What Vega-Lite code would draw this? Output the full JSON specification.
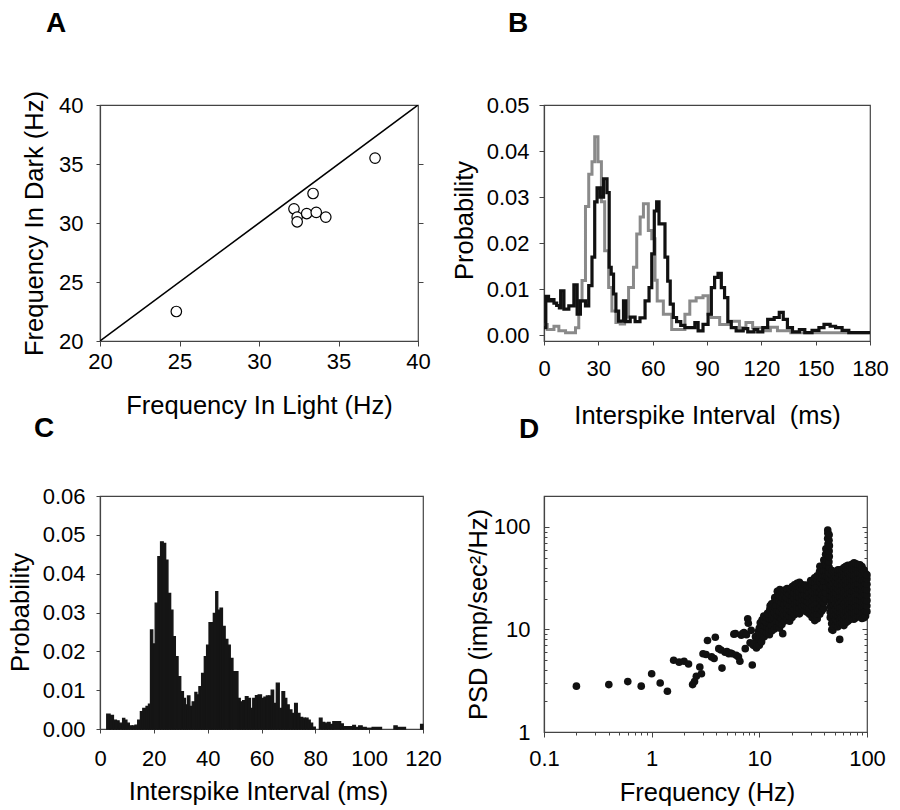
{
"$schema": "https://vega.github.io/schema/vega-lite/v6.json",
"background": "white",
"autosize": {"type": "pad"},
"padding": {"left": 7, "top": 8, "right": 0, "bottom": 0},
"config": {
  "font": "Liberation Sans",
  "view": {"stroke": "#444", "strokeWidth": 1.2},
  "axis": {"labelFont": "Liberation Sans", "labelFontSize": 22, "labelColor": "#000", "titleFont": "Liberation Sans", "titleFontSize": 25.5, "titleFontWeight": "normal", "titleColor": "#000", "grid": false, "domainColor": "#444", "domainWidth": 1.2, "tickColor": "#444", "tickWidth": 1, "labelFlush": false, "labelOverlap": false, "labelBound": false},
  "title": {"font": "Liberation Sans", "fontSize": 28, "fontWeight": "bold", "anchor": "start", "frame": "group", "color": "#000", "baseline": "alphabetic"}
},
"datasets": {
  "psd": [
{"f":0.2,"p":2.8},{"f":0.4,"p":2.9},{"f":0.6,"p":3.1},{"f":0.8,"p":2.8},{"f":1.0,"p":3.7},{"f":1.2,"p":3.0},{"f":1.4,"p":2.5},{"f":1.6,"p":5.0},{"f":1.8,"p":4.8},{"f":2.0,"p":4.9},{"f":2.2,"p":4.6},{"f":2.4,"p":2.9},{"f":2.5,"p":3.1},{"f":2.6,"p":3.5},{"f":2.8,"p":4.3},{"f":2.9,"p":3.7},{"f":3.0,"p":5.8},
{"f":3.2,"p":5.7},{"f":3.3,"p":7.8},{"f":3.6,"p":5.4},{"f":3.8,"p":5.2},{"f":3.9,"p":8.4},{"f":4.2,"p":6.5},{"f":4.4,"p":6.3},{"f":4.5,"p":4.2},{"f":4.8,"p":6.0},{"f":5.0,"p":6.1},{"f":5.2,"p":5.8},{"f":5.4,"p":5.9},{"f":5.6,"p":5.8},{"f":5.8,"p":9.0},{"f":6.0,"p":9.1},{"f":6.1,"p":5.6},{"f":6.4,"p":5.4},{"f":6.6,"p":4.9},{"f":6.8,"p":8.8},{"f":7.0,"p":9.1},{"f":7.2,"p":9.3},{"f":7.4,"p":6.5},{"f":7.6,"p":8.9},{"f":7.8,"p":12.7},{"f":7.9,"p":11.5},{"f":8.2,"p":7.4},{"f":8.4,"p":9.8},{"f":8.6,"p":4.5},{"f":8.8,"p":7.0},{"f":9.0,"p":7.4},{"f":9.2,"p":8.5},{"f":9.4,"p":6.6},{"f":9.6,"p":7.0},{"f":9.8,"p":9.6},
{"f":10.0,"p":7.0},{"f":10.0,"p":8.1},{"f":10.1,"p":9.2},{"f":10.0,"p":10.3},{"f":10.2,"p":11.6},
{"f":10.5,"p":7.6},{"f":10.6,"p":8.8},{"f":10.5,"p":9.9},{"f":10.4,"p":11.2},{"f":10.6,"p":12.4},
{"f":11.1,"p":8.5},{"f":11.0,"p":9.6},{"f":11.2,"p":10.9},{"f":11.1,"p":12.2},{"f":11.0,"p":13.5},
{"f":11.7,"p":9.3},{"f":11.8,"p":10.5},{"f":11.6,"p":11.8},{"f":11.7,"p":13.1},{"f":11.9,"p":14.4},
{"f":12.4,"p":8.9},{"f":12.3,"p":10.1},{"f":12.5,"p":11.4},{"f":12.4,"p":12.7},{"f":12.2,"p":14.1},{"f":12.5,"p":15.6},{"f":12.6,"p":17.0},
{"f":13.1,"p":9.7},{"f":13.0,"p":11.0},{"f":13.2,"p":12.5},{"f":13.1,"p":14.0},{"f":13.3,"p":15.8},{"f":13.0,"p":17.8},
{"f":13.8,"p":10.1},{"f":13.9,"p":11.5},{"f":13.7,"p":13.0},{"f":13.8,"p":14.6},{"f":14.0,"p":16.4},{"f":13.8,"p":18.4},{"f":13.9,"p":20.4},
{"f":14.6,"p":10.6},{"f":14.5,"p":12.0},{"f":14.7,"p":13.6},{"f":14.6,"p":15.3},{"f":14.4,"p":17.2},{"f":14.6,"p":19.4},{"f":14.8,"p":21.7},{"f":14.7,"p":23.6},
{"f":15.4,"p":10.3},{"f":15.3,"p":11.7},{"f":15.5,"p":13.2},{"f":15.4,"p":14.9},{"f":15.6,"p":16.8},{"f":15.3,"p":19.0},{"f":15.4,"p":21.4},{"f":15.5,"p":24.5},
{"f":16.2,"p":11.2},{"f":16.1,"p":12.7},{"f":16.3,"p":14.3},{"f":16.2,"p":16.1},{"f":16.0,"p":18.2},{"f":16.3,"p":20.5},{"f":16.2,"p":23.1},
{"f":16.5,"p":9.1},
{"f":17.1,"p":12.1},{"f":17.0,"p":13.7},{"f":17.2,"p":15.5},{"f":17.1,"p":17.5},{"f":17.3,"p":19.8},{"f":17.0,"p":22.3},{"f":17.2,"p":24.2},
{"f":18.1,"p":12.6},{"f":18.0,"p":14.2},{"f":18.2,"p":16.0},{"f":18.1,"p":18.1},{"f":17.9,"p":20.4},{"f":18.2,"p":23.0},{"f":18.1,"p":25.1},
{"f":19.1,"p":12.0},{"f":19.0,"p":13.5},{"f":19.2,"p":15.2},{"f":19.1,"p":17.2},{"f":19.3,"p":19.4},{"f":19.0,"p":21.9},{"f":19.2,"p":24.7},
{"f":20.1,"p":13.1},{"f":20.0,"p":14.8},{"f":20.2,"p":16.7},{"f":20.1,"p":18.8},{"f":20.3,"p":21.2},{"f":20.0,"p":23.9},{"f":20.2,"p":26.2},
{"f":21.2,"p":13.9},{"f":21.1,"p":15.7},{"f":21.3,"p":17.7},{"f":21.2,"p":20.0},{"f":21.0,"p":22.6},{"f":21.3,"p":25.5},{"f":21.2,"p":27.3},
{"f":22.4,"p":14.6},{"f":22.3,"p":16.5},{"f":22.5,"p":18.6},{"f":22.4,"p":21.0},{"f":22.6,"p":23.7},{"f":22.2,"p":26.7},{"f":22.4,"p":28.2},
{"f":23.6,"p":14.2},{"f":23.5,"p":16.1},{"f":23.7,"p":18.2},{"f":23.6,"p":20.5},{"f":23.4,"p":23.1},{"f":23.7,"p":26.1},{"f":23.6,"p":28.8},
{"f":24.9,"p":15.1},{"f":24.8,"p":17.0},{"f":25.0,"p":19.2},{"f":24.9,"p":21.7},{"f":25.1,"p":24.5},{"f":24.7,"p":27.4},
{"f":26.3,"p":15.3},{"f":26.2,"p":17.3},{"f":26.4,"p":19.5},{"f":26.3,"p":22.0},{"f":26.1,"p":24.8},{"f":26.4,"p":27.1},
{"f":27.8,"p":14.7},{"f":27.7,"p":16.6},{"f":27.9,"p":18.7},{"f":27.8,"p":21.1},{"f":28.0,"p":23.8},{"f":27.6,"p":26.9},
{"f":29.3,"p":14.1},{"f":29.2,"p":15.9},{"f":29.4,"p":17.9},{"f":29.3,"p":20.2},{"f":29.1,"p":22.8},{"f":29.4,"p":25.7},
{"f":30.0,"p":30.0},
{"f":30.9,"p":13.1},{"f":30.8,"p":14.8},{"f":31.0,"p":16.7},{"f":30.9,"p":18.8},{"f":31.1,"p":21.2},{"f":30.7,"p":23.9},{"f":30.9,"p":27.0},{"f":31.0,"p":29.2},
{"f":32.7,"p":12.2},{"f":32.6,"p":13.8},{"f":32.8,"p":15.6},{"f":32.7,"p":17.6},{"f":32.5,"p":19.9},{"f":32.8,"p":22.4},{"f":32.7,"p":25.3},{"f":32.9,"p":28.6},{"f":32.6,"p":31.8},
{"f":34.5,"p":12.7},{"f":34.4,"p":14.3},{"f":34.6,"p":16.1},{"f":34.5,"p":18.2},{"f":34.3,"p":20.5},{"f":34.6,"p":23.1},{"f":34.5,"p":26.1},{"f":34.7,"p":29.5},{"f":34.4,"p":33.3},
{"f":36.4,"p":14.1},{"f":36.3,"p":15.9},{"f":36.5,"p":17.9},{"f":36.4,"p":20.2},{"f":36.2,"p":22.8},{"f":36.5,"p":25.7},{"f":36.4,"p":29.0},{"f":36.6,"p":32.7},{"f":36.3,"p":36.9},{"f":36.5,"p":41.2},
{"f":38.0,"p":15.1},{"f":37.9,"p":17.0},{"f":38.1,"p":19.2},{"f":38.0,"p":21.7},{"f":37.8,"p":24.5},{"f":38.1,"p":27.6},{"f":38.0,"p":31.2},{"f":38.2,"p":35.2},{"f":37.9,"p":39.7},
{"f":39.6,"p":16.0},{"f":39.5,"p":18.1},{"f":39.7,"p":20.4},{"f":39.6,"p":23.0},{"f":39.4,"p":26.0},{"f":39.7,"p":29.3},{"f":39.6,"p":33.1},{"f":39.8,"p":37.3},{"f":39.5,"p":42.1},{"f":39.7,"p":47.5},
{"f":41.4,"p":19.8},{"f":41.3,"p":22.9},{"f":41.5,"p":26.1},{"f":41.4,"p":29.5},{"f":41.2,"p":33.3},{"f":41.5,"p":37.6},{"f":41.4,"p":42.4},{"f":41.6,"p":47.9},{"f":41.3,"p":54.1},{"f":41.5,"p":61.2},
{"f":43.2,"p":29.2},{"f":43.1,"p":32.9},{"f":43.3,"p":37.1},{"f":43.2,"p":41.9},{"f":43.0,"p":47.3},{"f":43.3,"p":53.4},{"f":43.2,"p":60.3},{"f":43.4,"p":68.1},{"f":43.1,"p":76.9},{"f":43.3,"p":86.8},{"f":43.2,"p":93.0},
{"f":44.5,"p":28.1},{"f":44.4,"p":31.7},{"f":44.6,"p":35.8},{"f":44.5,"p":40.4},{"f":44.3,"p":45.6},{"f":44.6,"p":51.5},{"f":44.5,"p":58.1},{"f":44.7,"p":65.6},{"f":44.4,"p":74.1},{"f":44.5,"p":83.6},
{"f":45.6,"p":13.1},{"f":45.5,"p":14.8},{"f":45.7,"p":16.7},{"f":45.6,"p":18.8},{"f":45.4,"p":21.2},{"f":45.7,"p":23.9},{"f":45.6,"p":27.0},{"f":45.8,"p":30.5},
{"f":47.1,"p":10.0},{"f":47.0,"p":11.4},{"f":47.2,"p":12.9},{"f":47.1,"p":14.5},{"f":46.9,"p":16.4},{"f":47.2,"p":18.5},{"f":47.1,"p":20.9},{"f":47.3,"p":23.6},{"f":47.0,"p":26.6},{"f":47.2,"p":30.1},{"f":47.1,"p":33.9},{"f":47.3,"p":37.6},
{"f":48.2,"p":9.8},
{"f":49.2,"p":10.7},{"f":49.1,"p":12.1},{"f":49.3,"p":13.6},{"f":49.2,"p":15.4},{"f":49.0,"p":17.3},{"f":49.3,"p":19.6},{"f":49.2,"p":22.1},{"f":49.4,"p":24.9},{"f":49.1,"p":28.1},{"f":49.3,"p":31.7},{"f":49.2,"p":35.6},
{"f":51.3,"p":11.1},{"f":51.2,"p":12.5},{"f":51.4,"p":14.1},{"f":51.3,"p":15.9},{"f":51.1,"p":18.0},{"f":51.4,"p":20.3},{"f":51.3,"p":22.9},{"f":51.5,"p":25.8},{"f":51.2,"p":29.1},{"f":51.4,"p":32.9},{"f":51.3,"p":36.2},
{"f":53.6,"p":10.6},{"f":53.5,"p":12.0},{"f":53.7,"p":13.5},{"f":53.6,"p":15.2},{"f":53.4,"p":17.2},{"f":53.7,"p":19.4},{"f":53.6,"p":21.9},{"f":53.8,"p":24.7},{"f":53.5,"p":27.9},{"f":53.7,"p":31.5},{"f":53.6,"p":35.5},{"f":53.8,"p":38.2},
{"f":55.8,"p":8.0},
{"f":56.0,"p":11.3},{"f":55.9,"p":12.8},{"f":56.1,"p":14.4},{"f":56.0,"p":16.3},{"f":55.8,"p":18.4},{"f":56.1,"p":20.7},{"f":56.0,"p":23.4},{"f":56.2,"p":26.4},{"f":55.9,"p":29.8},{"f":56.1,"p":33.6},{"f":56.0,"p":37.9},
{"f":58.4,"p":11.6},{"f":58.3,"p":13.1},{"f":58.5,"p":14.8},{"f":58.4,"p":16.7},{"f":58.2,"p":18.8},{"f":58.5,"p":21.2},{"f":58.4,"p":23.9},{"f":58.6,"p":27.0},{"f":58.3,"p":30.5},{"f":58.5,"p":34.4},{"f":58.4,"p":38.6},
{"f":61.0,"p":10.9},{"f":60.9,"p":12.3},{"f":61.1,"p":13.9},{"f":61.0,"p":15.7},{"f":60.8,"p":17.7},{"f":61.1,"p":20.0},{"f":61.0,"p":22.6},{"f":61.2,"p":25.5},{"f":60.9,"p":28.8},{"f":61.1,"p":32.5},{"f":61.0,"p":36.7},{"f":61.2,"p":40.1},
{"f":63.6,"p":11.6},{"f":63.5,"p":13.1},{"f":63.7,"p":14.8},{"f":63.6,"p":16.7},{"f":63.4,"p":18.8},{"f":63.7,"p":21.2},{"f":63.6,"p":23.9},{"f":63.8,"p":27.0},{"f":63.5,"p":30.5},{"f":63.7,"p":34.4},{"f":63.6,"p":38.8},{"f":63.8,"p":41.2},
{"f":66.4,"p":12.0},{"f":66.3,"p":13.6},{"f":66.5,"p":15.3},{"f":66.4,"p":17.3},{"f":66.2,"p":19.5},{"f":66.5,"p":22.0},{"f":66.4,"p":24.8},{"f":66.6,"p":28.0},{"f":66.3,"p":31.6},{"f":66.5,"p":35.7},{"f":66.4,"p":40.3},{"f":66.6,"p":42.2},
{"f":69.3,"p":12.5},{"f":69.2,"p":14.1},{"f":69.4,"p":15.9},{"f":69.3,"p":17.9},{"f":69.1,"p":20.2},{"f":69.4,"p":22.8},{"f":69.3,"p":25.7},{"f":69.5,"p":29.0},{"f":69.2,"p":32.8},{"f":69.4,"p":37.0},{"f":69.3,"p":41.8},
{"f":72.4,"p":13.0},{"f":72.3,"p":14.7},{"f":72.5,"p":16.6},{"f":72.4,"p":18.7},{"f":72.2,"p":21.1},{"f":72.5,"p":23.8},{"f":72.4,"p":26.9},{"f":72.6,"p":30.4},{"f":72.3,"p":34.3},{"f":72.5,"p":38.7},{"f":72.4,"p":43.1},
{"f":75.6,"p":12.6},{"f":75.5,"p":14.2},{"f":75.7,"p":16.0},{"f":75.6,"p":18.1},{"f":75.4,"p":20.4},{"f":75.7,"p":23.0},{"f":75.6,"p":26.0},{"f":75.8,"p":29.4},{"f":75.5,"p":33.2},{"f":75.7,"p":37.5},{"f":75.6,"p":42.3},{"f":75.8,"p":44.6},
{"f":78.9,"p":13.0},{"f":78.8,"p":14.7},{"f":79.0,"p":16.6},{"f":78.9,"p":18.7},{"f":78.7,"p":21.1},{"f":79.0,"p":23.8},{"f":78.9,"p":26.9},{"f":79.1,"p":30.4},{"f":78.8,"p":34.3},{"f":79.0,"p":38.7},{"f":78.9,"p":43.7},
{"f":82.4,"p":13.5},{"f":82.3,"p":15.2},{"f":82.5,"p":17.2},{"f":82.4,"p":19.4},{"f":82.2,"p":21.9},{"f":82.5,"p":24.7},{"f":82.4,"p":27.9},{"f":82.6,"p":31.5},{"f":82.3,"p":35.6},{"f":82.5,"p":40.2},{"f":82.4,"p":43.0},
{"f":86.0,"p":13.4},{"f":85.9,"p":15.1},{"f":86.1,"p":17.1},{"f":86.0,"p":19.3},{"f":85.8,"p":21.8},{"f":86.1,"p":24.6},{"f":86.0,"p":27.8},{"f":86.2,"p":31.4},{"f":85.9,"p":35.5},{"f":86.1,"p":40.1},{"f":86.0,"p":42.6},
{"f":89.8,"p":12.8},{"f":89.7,"p":14.5},{"f":89.9,"p":16.4},{"f":89.8,"p":18.5},{"f":89.6,"p":20.9},{"f":89.9,"p":23.6},{"f":89.8,"p":26.6},{"f":90.0,"p":30.0},{"f":89.7,"p":33.9},{"f":89.9,"p":38.3},{"f":89.8,"p":41.0},
{"f":93.8,"p":13.0},{"f":93.7,"p":14.7},{"f":93.9,"p":16.6},{"f":93.8,"p":18.7},{"f":93.6,"p":21.1},{"f":93.9,"p":23.8},{"f":93.8,"p":26.9},{"f":94.0,"p":30.4},{"f":93.7,"p":34.3},{"f":93.9,"p":38.0},
{"f":97.0,"p":13.5},{"f":96.9,"p":15.2},{"f":97.1,"p":17.2},{"f":97.0,"p":19.4},{"f":96.8,"p":21.9},{"f":97.1,"p":24.7},{"f":97.0,"p":27.9},{"f":97.2,"p":31.5},{"f":96.9,"p":35.0},
{"f":99.8,"p":15.0},{"f":99.7,"p":17.0},{"f":99.9,"p":19.2},{"f":99.8,"p":21.7},{"f":99.6,"p":24.5},{"f":99.9,"p":27.6},{"f":99.8,"p":31.0},{"f":99.9,"p":34.0}
  ]
},
"columns": 2,
"align": "none",
"bounds": "flush",
"spacing": {"row": 155, "column": 121},
"concat": [
   {
    "width": 318, "height": 236,
    "title": {"text": "A", "dx": -54, "offset": 53},
    "layer": [
     {
      "data": {"values": [{"x": 20, "y": 20}, {"x": 40, "y": 40}]},
      "mark": {"type": "line", "color": "#000", "strokeWidth": 1.5, "clip": true},
      "encoding": {
        "x": {"field": "x", "type": "quantitative", "scale": {"domain": [20, 40]},
              "axis": {"values": [20, 25, 30, 35, 40], "title": "Frequency In Light (Hz)", "tickSize": 5, "labelPadding": 22, "labelBaseline": "alphabetic", "titleX": 159, "titleY": 72, "titleBaseline": "alphabetic", "titleAlign": "center"}},
        "y": {"field": "y", "type": "quantitative", "scale": {"domain": [20, 40]},
              "axis": {"orient": "right", "values": [25, 30, 35], "labels": false, "title": null, "domain": false, "tickSize": 5}}
      }
     },
     {
      "data": {"values": [
        {"x": 24.8, "y": 22.5}, {"x": 37.3, "y": 35.5}, {"x": 33.4, "y": 32.5}, {"x": 32.2, "y": 31.2}, {"x": 32.4, "y": 30.5},
        {"x": 32.4, "y": 30.1}, {"x": 33.0, "y": 30.8}, {"x": 33.6, "y": 30.9}, {"x": 34.2, "y": 30.5}
      ]},
      "mark": {"type": "point", "shape": "circle", "filled": true, "fill": "#fff", "stroke": "#000", "strokeWidth": 1.2, "size": 110, "opacity": 1},
      "encoding": {
        "x": {"field": "x", "type": "quantitative", "scale": {"domain": [20, 40]},
              "axis": {"values": [20, 25, 30, 35, 40], "title": "Frequency In Light (Hz)", "tickSize": 5, "labelPadding": 22, "labelBaseline": "alphabetic", "titleX": 159, "titleY": 72, "titleBaseline": "alphabetic", "titleAlign": "center"}},
        "y": {"field": "y", "type": "quantitative", "scale": {"domain": [20, 40]},
              "axis": {"orient": "left", "values": [20, 25, 30, 35, 40], "title": "Frequency In Dark (Hz)", "tickSize": 4, "labelPadding": 13, "titleX": -58, "titleY": 118, "titleAngle": 270, "titleBaseline": "alphabetic", "titleAlign": "center"}}
      }
     }
    ],
    "resolve": {"axis": {"y": "independent"}}
   },
   {
    "width": 326, "height": 236,
    "title": {"text": "B", "dx": -36, "offset": 56},
    "data": {"values": [
      {"s":"gray","t":0,"p":0.0024},{"s":"gray","t":1.8,"p":0.0013},{"s":"gray","t":5.5,"p":0.002},{"s":"gray","t":8.2,"p":0.001},{"s":"gray","t":11.9,"p":0.0006},{"s":"gray","t":17.4,"p":0.0017},{"s":"gray","t":19.2,"p":0.0075},{"s":"gray","t":21,"p":0.0119},{"s":"gray","t":22.9,"p":0.028},{"s":"gray","t":24.7,"p":0.035},{"s":"gray","t":26.5,"p":0.0377},{"s":"gray","t":28,"p":0.0431},{"s":"gray","t":29.8,"p":0.0377},{"s":"gray","t":31.7,"p":0.029},{"s":"gray","t":33.5,"p":0.0184},{"s":"gray","t":35.7,"p":0.0104},{"s":"gray","t":37.5,"p":0.0053},{"s":"gray","t":39.7,"p":0.0028},{"s":"gray","t":42.1,"p":0.0025},{"s":"gray","t":44.5,"p":0.004},{"s":"gray","t":46.7,"p":0.0104},{"s":"gray","t":49.4,"p":0.0148},{"s":"gray","t":51.2,"p":0.022},{"s":"gray","t":53.1,"p":0.0257},{"s":"gray","t":54.9,"p":0.0286},{"s":"gray","t":57.6,"p":0.0228},{"s":"gray","t":59.5,"p":0.021},{"s":"gray","t":61.3,"p":0.012},{"s":"gray","t":62.5,"p":0.0075},{"s":"gray","t":65.9,"p":0.0046},{"s":"gray","t":70.5,"p":0.0013},{"s":"gray","t":77.8,"p":0.0046},{"s":"gray","t":80.5,"p":0.0075},{"s":"gray","t":84,"p":0.0082},{"s":"gray","t":87.8,"p":0.0086},{"s":"gray","t":90.6,"p":0.0046},{"s":"gray","t":92.4,"p":0.0039},{"s":"gray","t":97,"p":0.0024},{"s":"gray","t":102.4,"p":0.0031},{"s":"gray","t":107.9,"p":0.0017},{"s":"gray","t":111.5,"p":0.0028},{"s":"gray","t":115.2,"p":0.0017},{"s":"gray","t":120.8,"p":0.001},{"s":"gray","t":125,"p":0.0018},{"s":"gray","t":128.9,"p":0.001},{"s":"gray","t":136.3,"p":0.0006},{"s":"gray","t":180,"p":0.0006},
      {"s":"black","t":0,"p":0.0017},{"s":"black","t":1,"p":0.0085},{"s":"black","t":2.5,"p":0.0075},{"s":"black","t":4,"p":0.0078},{"s":"black","t":5.5,"p":0.007},{"s":"black","t":7,"p":0.0065},{"s":"black","t":8.5,"p":0.006},{"s":"black","t":9.2,"p":0.0097},{"s":"black","t":11,"p":0.0057},{"s":"black","t":13.7,"p":0.0064},{"s":"black","t":16.5,"p":0.011},{"s":"black","t":18.3,"p":0.0046},{"s":"black","t":20.1,"p":0.0075},{"s":"black","t":22.9,"p":0.0064},{"s":"black","t":24.7,"p":0.0108},{"s":"black","t":26.5,"p":0.017},{"s":"black","t":28,"p":0.029},{"s":"black","t":29.3,"p":0.032},{"s":"black","t":31.1,"p":0.030},{"s":"black","t":32.9,"p":0.034},{"s":"black","t":34.8,"p":0.031},{"s":"black","t":36,"p":0.0148},{"s":"black","t":37.1,"p":0.0133},{"s":"black","t":38.4,"p":0.009},{"s":"black","t":39.7,"p":0.0053},{"s":"black","t":41.2,"p":0.0031},{"s":"black","t":43.9,"p":0.0075},{"s":"black","t":45.2,"p":0.003},{"s":"black","t":47.6,"p":0.004},{"s":"black","t":50.3,"p":0.003},{"s":"black","t":53,"p":0.0038},{"s":"black","t":55.8,"p":0.0075},{"s":"black","t":58,"p":0.0104},{"s":"black","t":59.5,"p":0.0177},{"s":"black","t":60.9,"p":0.027},{"s":"black","t":62.2,"p":0.029},{"s":"black","t":63.5,"p":0.0242},{"s":"black","t":66.8,"p":0.017},{"s":"black","t":68.3,"p":0.0118},{"s":"black","t":69.7,"p":0.0068},{"s":"black","t":71.4,"p":0.0039},{"s":"black","t":73.2,"p":0.003},{"s":"black","t":75.5,"p":0.0022},{"s":"black","t":77.8,"p":0.0017},{"s":"black","t":83.3,"p":0.0028},{"s":"black","t":85.1,"p":0.001},{"s":"black","t":87.8,"p":0.0024},{"s":"black","t":90.6,"p":0.0046},{"s":"black","t":92.4,"p":0.0104},{"s":"black","t":94.2,"p":0.0126},{"s":"black","t":96.1,"p":0.0135},{"s":"black","t":97.9,"p":0.0104},{"s":"black","t":99.7,"p":0.0082},{"s":"black","t":101.5,"p":0.003},{"s":"black","t":103.4,"p":0.0017},{"s":"black","t":106.1,"p":0.001},{"s":"black","t":110,"p":0.0015},{"s":"black","t":112.5,"p":0.0008},{"s":"black","t":116,"p":0.0013},{"s":"black","t":118,"p":0.0008},{"s":"black","t":120.8,"p":0.0017},{"s":"black","t":123.5,"p":0.0035},{"s":"black","t":127.1,"p":0.0039},{"s":"black","t":129.9,"p":0.005},{"s":"black","t":132.1,"p":0.0035},{"s":"black","t":134.4,"p":0.0017},{"s":"black","t":137.2,"p":0.0008},{"s":"black","t":141,"p":0.0013},{"s":"black","t":144,"p":0.0006},{"s":"black","t":148,"p":0.0011},{"s":"black","t":151.8,"p":0.0017},{"s":"black","t":154.6,"p":0.0024},{"s":"black","t":158,"p":0.002},{"s":"black","t":161,"p":0.0017},{"s":"black","t":164.6,"p":0.0011},{"s":"black","t":168.3,"p":0.0006},{"s":"black","t":180,"p":0.0006}
    ]},
    "encoding": {
      "x": {"field": "t", "type": "quantitative", "scale": {"domain": [0, 180]},
            "axis": {"values": [0, 30, 60, 90, 120, 150, 180], "title": "Interspike Interval\u00a0\u00a0(ms)", "tickSize": 4, "labelPadding": 30, "labelBaseline": "alphabetic", "titleX": 163, "titleY": 82, "titleBaseline": "alphabetic", "titleAlign": "center"}},
      "y": {"field": "p", "type": "quantitative", "scale": {"domain": [-0.0012, 0.05], "nice": false, "zero": false},
            "axis": {"values": [0, 0.01, 0.02, 0.03, 0.04, 0.05], "format": ".2f", "title": "Probability", "tickSize": 5, "labelPadding": 10, "titleX": -72, "titleY": 115, "titleAngle": 270, "titleBaseline": "alphabetic", "titleAlign": "center"}}
    },
    "layer": [
      {"transform": [{"filter": "datum.s == 'gray'"}], "mark": {"type": "line", "interpolate": "step-after", "color": "#8a8a8a", "strokeWidth": 3}},
      {"transform": [{"filter": "datum.s == 'black'"}], "mark": {"type": "line", "interpolate": "step-after", "color": "#111", "strokeWidth": 3.2}}
    ]
   },
   {
    "width": 323, "height": 233,
    "title": {"text": "C", "dx": -66, "offset": 42},
    "data": {"values": [
      {"a":2.5,"b":3.75,"p":0.0038},{"a":3.75,"b":5,"p":0.0035},{"a":5,"b":6.1,"p":0.0023},{"a":6.1,"b":7.1,"p":0.0021},{"a":7.1,"b":8.4,"p":0.0015},{"a":8.4,"b":9.2,"p":0.0027},{"a":9.2,"b":10,"p":0.0023},{"a":10,"b":10.9,"p":0.0015},{"a":10.9,"b":12,"p":0.0008},{"a":12,"b":13,"p":0.0008},{"a":13,"b":14,"p":0.001},{"a":14,"b":15,"p":0.0023},{"a":15,"b":15.9,"p":0.0045},{"a":15.9,"b":17.1,"p":0.0053},{"a":17.1,"b":18,"p":0.0058},{"a":18,"b":18.75,"p":0.0064},{"a":18.75,"b":19.6,"p":0.0255},{"a":19.6,"b":20.5,"p":0.0219},{"a":20.5,"b":21.5,"p":0.0324},{"a":21.5,"b":22.5,"p":0.0444},{"a":22.5,"b":23.5,"p":0.0482},{"a":23.5,"b":24.4,"p":0.0478},{"a":24.4,"b":25.25,"p":0.0435},{"a":25.25,"b":26.25,"p":0.0349},{"a":26.25,"b":27.1,"p":0.0306},{"a":27.1,"b":28,"p":0.0238},{"a":28,"b":29,"p":0.0186},{"a":29,"b":30,"p":0.0135},{"a":30,"b":31,"p":0.0096},{"a":31,"b":31.75,"p":0.0079},{"a":31.75,"b":32.5,"p":0.0062},{"a":32.5,"b":33.4,"p":0.0085},{"a":33.4,"b":34.25,"p":0.0058},{"a":34.25,"b":35.25,"p":0.007},{"a":35.25,"b":36,"p":0.0094},{"a":36,"b":36.75,"p":0.0088},{"a":36.75,"b":37.75,"p":0.0109},{"a":37.75,"b":38.75,"p":0.0143},{"a":38.75,"b":39.6,"p":0.0186},{"a":39.6,"b":40.5,"p":0.0216},{"a":40.5,"b":41.25,"p":0.0274},{"a":41.25,"b":42.1,"p":0.0274},{"a":42.1,"b":43,"p":0.0298},{"a":43,"b":43.75,"p":0.0354},{"a":43.75,"b":44.6,"p":0.0306},{"a":44.6,"b":45.5,"p":0.0311},{"a":45.5,"b":46.5,"p":0.0264},{"a":46.5,"b":47.5,"p":0.0231},{"a":47.5,"b":48.4,"p":0.0216},{"a":48.4,"b":49.4,"p":0.0182},{"a":49.4,"b":51.25,"p":0.0148},{"a":51.25,"b":52.1,"p":0.0079},{"a":52.1,"b":53,"p":0.007},{"a":53,"b":54,"p":0.0073},{"a":54,"b":55,"p":0.0083},{"a":55,"b":55.9,"p":0.0079},{"a":55.9,"b":56.75,"p":0.0053},{"a":56.75,"b":57.75,"p":0.0079},{"a":57.75,"b":58.75,"p":0.0086},{"a":58.75,"b":60,"p":0.0088},{"a":60,"b":60.9,"p":0.0079},{"a":60.9,"b":61.8,"p":0.0082},{"a":61.8,"b":62.7,"p":0.0085},{"a":62.7,"b":63.6,"p":0.0085},{"a":63.6,"b":64.5,"p":0.01},{"a":64.5,"b":65.5,"p":0.0066},{"a":65.5,"b":66.6,"p":0.0118},{"a":66.6,"b":67.6,"p":0.0053},{"a":67.6,"b":68.6,"p":0.0096},{"a":68.6,"b":69.4,"p":0.0079},{"a":69.4,"b":70.3,"p":0.0062},{"a":70.3,"b":71.3,"p":0.0049},{"a":71.3,"b":72.3,"p":0.004},{"a":72.3,"b":73.3,"p":0.0066},{"a":73.3,"b":74.3,"p":0.004},{"a":74.3,"b":75.3,"p":0.003},{"a":75.3,"b":76.3,"p":0.0028},{"a":76.3,"b":77.3,"p":0.0028},{"a":77.3,"b":78.1,"p":0.0023},{"a":78.1,"b":79,"p":0.0015},{"a":79,"b":80,"p":0.0005},{"a":81.5,"b":82.5,"p":0.0028},{"a":82.5,"b":83.5,"p":0.0017},{"a":83.5,"b":84.5,"p":0.0015},{"a":84.5,"b":85.5,"p":0.0017},{"a":85.5,"b":86.5,"p":0.0012},{"a":86.5,"b":89.4,"p":0.0019},{"a":89.4,"b":90.4,"p":0.0013},{"a":90.4,"b":93.9,"p":0.0006},{"a":93.9,"b":94.9,"p":0.0009},{"a":94.9,"b":96.1,"p":0.0004},{"a":96.1,"b":97.4,"p":0.0008},{"a":97.4,"b":98.9,"p":0.0004},{"a":98.9,"b":101.1,"p":0.0002},{"a":101.1,"b":104.6,"p":0.0004},{"a":109.2,"b":110.4,"p":0.0008},{"a":110.4,"b":113.5,"p":0.0004},{"a":119.1,"b":120,"p":0.0012}
    ]},
    "mark": {"type": "rect", "color": "#151515", "stroke": "#151515", "strokeWidth": 1.3},
    "encoding": {
      "x": {"field": "a", "type": "quantitative", "scale": {"domain": [0, 120]},
            "axis": {"values": [0, 20, 40, 60, 80, 100, 120], "title": "Interspike Interval (ms)", "tickSize": 4, "labelPadding": 32, "labelBaseline": "alphabetic", "titleX": 158, "titleY": 70, "titleBaseline": "alphabetic", "titleAlign": "center"}},
      "x2": {"field": "b"},
      "y": {"field": "p", "type": "quantitative", "scale": {"domain": [0, 0.06]},
            "axis": {"values": [0, 0.01, 0.02, 0.03, 0.04, 0.05, 0.06], "format": ".2f", "title": "Probability", "tickSize": 4, "labelPadding": 11, "titleX": -72, "titleY": 116, "titleAngle": 270, "titleBaseline": "alphabetic", "titleAlign": "center"}},
      "y2": {"datum": 0}
    }
   },
   {
    "width": 323, "height": 236,
    "title": {"text": "D", "dx": -25, "offset": 52},
    "data": {"name": "psd"},
    "layer": [
     {
      "mark": {"type": "point", "shape": "circle", "filled": true, "color": "#111", "opacity": 1, "size": 58},
      "encoding": {
        "x": {"field": "f", "type": "quantitative", "scale": {"type": "log", "domain": [0.1, 100]},
              "axis": {"values": [0.1,0.2,0.3,0.4,0.5,0.6,0.7,0.8,0.9,1,2,3,4,5,6,7,8,9,10,20,30,40,50,60,70,80,90,100], "format": "~g",
                       "labelExpr": "datum.value == 0.1 || datum.value == 1 || datum.value == 10 || datum.value == 100 ? datum.label : ''",
                       "tickSize": {"condition": {"test": "datum.value == 0.1 || datum.value == 1 || datum.value == 10 || datum.value == 100", "value": 5}, "value": 3},
                       "title": "Frequency (Hz)", "labelPadding": 28, "labelBaseline": "alphabetic", "titleX": 163, "titleY": 68, "titleBaseline": "alphabetic", "titleAlign": "center"}},
        "y": {"field": "p", "type": "quantitative", "scale": {"type": "log", "domain": [1, 200]},
              "axis": {"orient": "left", "values": [1,2,3,4,5,6,7,8,9,10,20,30,40,50,60,70,80,90,100], "format": "~g",
                       "labelExpr": "datum.value == 1 || datum.value == 10 || datum.value == 100 ? datum.label : ''",
                       "tickSize": {"condition": {"test": "datum.value == 1 || datum.value == 10 || datum.value == 100", "value": -5}, "value": -3},
                       "title": "PSD (imp/sec²/Hz)", "labelPadding": 19, "titleX": -58, "titleY": 118, "titleAngle": 270, "titleBaseline": "alphabetic", "titleAlign": "center"}}
      }
     },
     {
      "mark": {"type": "point", "opacity": 0},
      "encoding": {
        "x": {"field": "f", "type": "quantitative", "scale": {"type": "log", "domain": [0.1, 100]},
              "axis": {"values": [0.1,0.2,0.3,0.4,0.5,0.6,0.7,0.8,0.9,1,2,3,4,5,6,7,8,9,10,20,30,40,50,60,70,80,90,100], "format": "~g",
                       "labelExpr": "datum.value == 0.1 || datum.value == 1 || datum.value == 10 || datum.value == 100 ? datum.label : ''",
                       "tickSize": {"condition": {"test": "datum.value == 0.1 || datum.value == 1 || datum.value == 10 || datum.value == 100", "value": 5}, "value": 3},
                       "title": "Frequency (Hz)", "labelPadding": 28, "labelBaseline": "alphabetic", "titleX": 163, "titleY": 68, "titleBaseline": "alphabetic", "titleAlign": "center"}},
        "y": {"field": "p", "type": "quantitative", "scale": {"type": "log", "domain": [1, 200]},
              "axis": {"orient": "right", "values": [1,2,3,4,5,6,7,8,9,10,20,30,40,50,60,70,80,90,100], "labels": false, "title": null, "domain": false,
                       "tickSize": {"condition": {"test": "datum.value == 1 || datum.value == 10 || datum.value == 100", "value": -5}, "value": -3}}}
      }
     }
    ],
    "resolve": {"axis": {"y": "independent"}}
   }
]
}
